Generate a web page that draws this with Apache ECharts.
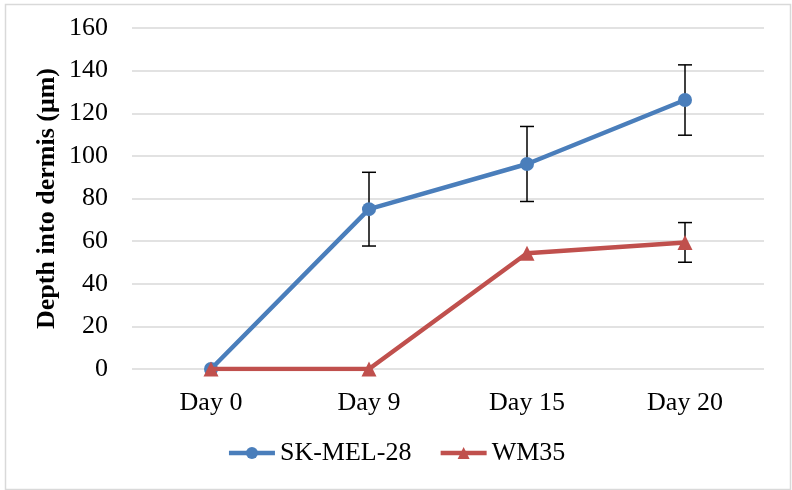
<!DOCTYPE html>
<html>
<head>
<meta charset="utf-8">
<script src="https://cdn.jsdelivr.net/npm/echarts@6/dist/echarts.min.js"></script>
<style>html,body{margin:0;padding:0;background:#fff;}#c{width:792px;height:490px;}</style>
</head>
<body>
<div id="c"></div>
<script>
var categories = ['Day 0', 'Day 9', 'Day 15', 'Day 20'];
var skMel = [0, 75.0, 96.2, 126.2];
var skMelErr = [null, 17.3, 17.6, 16.5];
var wm35 = [0, 0, 54.3, 59.4];
var wm35Err = [null, null, null, 9.3];
var yTicks = [0, 20, 40, 60, 80, 100, 120, 140, 160];

var FONT = '"Liberation Serif", "Times New Roman", serif';
var BLUE = '#4A7EBB';
var RED = '#C0504D';

function errData(vals, errs) {
  var out = [];
  for (var i = 0; i < vals.length; i++) {
    if (errs[i] != null) out.push([i, vals[i] - errs[i], vals[i] + errs[i]]);
  }
  return out;
}

function renderErr(params, api) {
  var x = api.value(0);
  var lo = api.coord([x, api.value(1)]);
  var hi = api.coord([x, api.value(2)]);
  var hw = 7;
  var st = { stroke: '#000', lineWidth: 1.5 };
  return {
    type: 'group',
    children: [
      { type: 'line', shape: { x1: hi[0], y1: hi[1], x2: lo[0], y2: lo[1] }, style: st },
      { type: 'line', shape: { x1: hi[0] - hw, y1: hi[1], x2: hi[0] + hw, y2: hi[1] }, style: st },
      { type: 'line', shape: { x1: lo[0] - hw, y1: lo[1], x2: lo[0] + hw, y2: lo[1] }, style: st }
    ]
  };
}

var chart = echarts.init(document.getElementById('c'), null, { renderer: 'canvas' });
chart.setOption({
  backgroundColor: '#fff',
  animation: false,
  textStyle: { fontFamily: FONT },
  graphic: [{
    type: 'rect', left: 3, top: 2, z: -10,
    shape: { width: 785, height: 485 },
    style: { fill: 'none', stroke: '#D9D9D9', lineWidth: 1.5 }
  }],
  grid: { left: 132, right: 28, top: 28, bottom: 121, outerBoundsMode: 'none' },
  legend: {
    top: 435,
    left: 'center',
    itemWidth: 46,
    itemHeight: 15,
    itemGap: 27,
    itemStyle: { borderWidth: 0 },
    lineStyle: { width: 4.5 },
    textStyle: { fontFamily: FONT, fontSize: 26, color: '#000' },
    data: ['SK-MEL-28', 'WM35']
  },
  xAxis: {
    type: 'category',
    data: categories,
    boundaryGap: true,
    axisLine: { show: false },
    axisTick: { show: false },
    axisLabel: { fontFamily: FONT, fontSize: 26, color: '#000', margin: 21 }
  },
  yAxis: {
    type: 'value',
    min: yTicks[0],
    max: yTicks[yTicks.length - 1],
    interval: 20,
    name: 'Depth into dermis (μm)',
    nameLocation: 'middle',
    nameGap: 72,
    nameMoveOverlap: false,
    nameTextStyle: { fontFamily: FONT, fontSize: 26, fontWeight: 'bold', color: '#000' },
    axisLine: { show: false },
    axisTick: { show: false },
    splitLine: { lineStyle: { color: '#D9D9D9', width: 1.5 } },
    axisLabel: { fontFamily: FONT, fontSize: 26, color: '#000', margin: 24 }
  },
  series: [
    {
      name: 'SK-MEL-28', type: 'line', data: skMel,
      symbol: 'circle', symbolSize: 14,
      lineStyle: { color: BLUE, width: 4.5 },
      itemStyle: { color: BLUE },
      z: 3
    },
    {
      name: 'WM35', type: 'line', data: wm35,
      symbol: 'triangle', symbolSize: 15,
      lineStyle: { color: RED, width: 4.5 },
      itemStyle: { color: RED },
      z: 4
    },
    {
      type: 'custom', name: 'errSK', data: errData(skMel, skMelErr),
      renderItem: renderErr, z: 2, silent: true
    },
    {
      type: 'custom', name: 'errWM', data: errData(wm35, wm35Err),
      renderItem: renderErr, z: 2, silent: true
    }
  ]
});
</script>
</body>
</html>
